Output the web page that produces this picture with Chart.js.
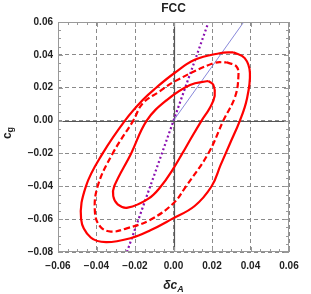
<!DOCTYPE html>
<html>
<head>
<meta charset="utf-8">
<script src="https://cdn.jsdelivr.net/npm/chart.js@4/dist/chart.umd.min.js"></script>
<style>
  html, body { margin: 0; padding: 0; background: #fff; }
  #wrap { width: 311px; height: 294px; }
</style>
</head>
<body>
<div id="wrap"><canvas id="chart" width="311" height="294"></canvas></div>
<script>
// axis ranges and tick labels
const xTicks = [-0.06, -0.04, -0.02, 0.00, 0.02, 0.04, 0.06];
const yTicks = [-0.08, -0.06, -0.04, -0.02, 0.00, 0.02, 0.04, 0.06];

// outer contour (solid)
const outerX = [0.031, 0.037, 0.0397, 0.038, 0.0345, 0.0294, 0.0245, 0.0198, 0.011, -0.001, -0.012, -0.022, -0.035, -0.043, -0.048, -0.0455, -0.0368, -0.0252, -0.016, -0.009, 0.000, 0.011, 0.024, 0.031];
const outerY = [0.0416, 0.038, 0.029, 0.0125, 0.000, -0.0138, -0.027, -0.040, -0.052, -0.060, -0.0668, -0.0715, -0.074, -0.0712, -0.060, -0.040, -0.020, 0.000, 0.0125, 0.020, 0.0285, 0.037, 0.041, 0.0416];

// middle contour (dashed)
const midX = [0.0276, 0.0328, 0.0337, 0.032, 0.0259, 0.0181, 0.0065, 0.000, -0.0122, -0.0243, -0.0325, -0.038, -0.0408, -0.0394, -0.0316, -0.0209, -0.016, -0.0074, 0.0004, 0.0207, 0.0276];
const midY = [0.0355, 0.0328, 0.0267, 0.0145, 0.000, -0.020, -0.040, -0.0503, -0.0605, -0.0656, -0.0676, -0.0646, -0.056, -0.040, -0.020, 0.000, 0.0105, 0.0176, 0.0237, 0.0349, 0.0355];

// inner contour (solid)
const innerX = [0.018, 0.0207, 0.0214, 0.019, 0.0146, 0.0095, 0.0046, -0.0005, -0.0065, -0.013, -0.0238, -0.029, -0.0313, -0.0308, -0.022, -0.0139, -0.0035, 0.0086, 0.018];
const innerY = [0.0241, 0.0217, 0.015, 0.008, 0.000, -0.010, -0.020, -0.030, -0.040, -0.0475, -0.053, -0.051, -0.046, -0.040, -0.020, 0.000, 0.0125, 0.0217, 0.0241];

// straight lines
const purpleX = [-0.0242, 0.0182];
const purpleY = [-0.08, 0.06];
const blueX = [0, 0.0365];
const blueY = [0, 0.06];

const pts = (xs, ys) => xs.map((x, i) => ({ x, y: ys[i] }));
const fmt = v => (Math.abs(v) < 1e-9 ? '0.00' : (v < 0 ? '\u2212' + (-v).toFixed(2) : v.toFixed(2)));

// frame, zero axes, minor ticks, title and axis labels
const decor = {
  id: 'decor',
  beforeDatasetsDraw(chart) {
    const { ctx, chartArea: a, scales: { x, y } } = chart;
    ctx.save();
    ctx.strokeStyle = '#555';
    ctx.lineWidth = 1.2;
    ctx.beginPath();
    const x0 = Math.round(x.getPixelForValue(0)) + 0.5;
    const y0 = Math.round(y.getPixelForValue(0)) + 0.5;
    ctx.moveTo(x0, a.top); ctx.lineTo(x0, a.bottom);
    ctx.moveTo(a.left, y0); ctx.lineTo(a.right, y0);
    ctx.stroke();
    ctx.restore();
  },
  afterDraw(chart) {
    const { ctx, chartArea: a, scales: { x, y } } = chart;
    ctx.save();
    ctx.strokeStyle = '#999';
    ctx.lineWidth = 1;
    ctx.strokeRect(a.left + 0.5, a.top + 0.5, a.right - a.left - 1, a.bottom - a.top - 1);
    ctx.beginPath();
    for (let k = -12; k <= 12; k++) {
      const v = k * 0.005;
      const len = k % 4 === 0 ? 5 : 3;
      const px = Math.round(x.getPixelForValue(v)) + 0.5;
      ctx.moveTo(px, a.bottom); ctx.lineTo(px, a.bottom - len);
      ctx.moveTo(px, a.top); ctx.lineTo(px, a.top + len);
    }
    for (let k = -16; k <= 12; k++) {
      const v = k * 0.005;
      const len = k % 4 === 0 ? 5 : 3;
      const py = Math.round(y.getPixelForValue(v)) + 0.5;
      ctx.moveTo(a.left, py); ctx.lineTo(a.left + len, py);
      ctx.moveTo(a.right, py); ctx.lineTo(a.right - len, py);
    }
    ctx.stroke();

    ctx.fillStyle = '#222';
    ctx.textBaseline = 'middle';
    ctx.textAlign = 'center';
    ctx.font = 'bold 12px "Liberation Sans", Arial, sans-serif';
    ctx.fillText('FCC', (a.left + a.right) / 2, 9);

    // x title: δc_A
    ctx.textAlign = 'left';
    ctx.font = 'italic bold 12px "Liberation Sans", Arial, sans-serif';
    const main = 'δc';
    const wm = ctx.measureText(main).width;
    ctx.font = 'italic bold 9px "Liberation Sans", Arial, sans-serif';
    const ws = ctx.measureText('A').width;
    let sx = (a.left + a.right) / 2 - (wm + ws) / 2;
    ctx.font = 'italic bold 12px "Liberation Sans", Arial, sans-serif';
    ctx.fillText(main, sx, 286);
    ctx.font = 'italic bold 9px "Liberation Sans", Arial, sans-serif';
    ctx.fillText('A', sx + wm, 290);

    // y title: c_g
    ctx.translate(9, 133);
    ctx.rotate(-Math.PI / 2);
    ctx.font = 'bold 12px "Liberation Sans", Arial, sans-serif';
    const wc = ctx.measureText('c').width;
    ctx.font = 'bold 9px "Liberation Sans", Arial, sans-serif';
    const wg = ctx.measureText('g').width;
    sx = -(wc + wg) / 2;
    ctx.font = 'bold 12px "Liberation Sans", Arial, sans-serif';
    ctx.fillText('c', sx, -1);
    ctx.font = 'bold 9px "Liberation Sans", Arial, sans-serif';
    ctx.fillText('g', sx + wc, 2);
    ctx.restore();
  }
};

const tickFont = { family: '"Liberation Sans", Arial, sans-serif', size: 10, weight: 'bold' };

new Chart(document.getElementById('chart'), {
  type: 'scatter',
  data: {
    datasets: [
      { data: pts(outerX, outerY), showLine: true, borderColor: '#ff0000', borderWidth: 2.2, tension: 0.4, pointRadius: 0 },
      { data: pts(midX, midY), showLine: true, borderColor: '#ff0000', borderWidth: 2.2, borderDash: [6, 3], tension: 0.4, pointRadius: 0 },
      { data: pts(innerX, innerY), showLine: true, borderColor: '#ff0000', borderWidth: 2.2, tension: 0.4, pointRadius: 0 },
      { data: pts(blueX, blueY), showLine: true, borderColor: '#6a6ad0', borderWidth: 0.8, pointRadius: 0 },
      { data: pts(purpleX, purpleY), showLine: true, borderColor: '#8a0fb0', borderWidth: 2.2, borderDash: [2, 2.5], pointRadius: 0 }
    ]
  },
  options: {
    responsive: false,
    animation: false,
    layout: { padding: { top: 22, right: 22, bottom: 0, left: 0 } },
    plugins: { legend: { display: false }, tooltip: { enabled: false } },
    scales: {
      x: {
        type: 'linear', min: -0.06, max: 0.06,
        afterBuildTicks: s => { s.ticks = xTicks.map(v => ({ value: v })); },
        afterFit: s => { s.height = 42; },
        ticks: { callback: v => fmt(v), font: tickFont, color: '#222', padding: 8, maxRotation: 0 },
        grid: { color: '#8a8a8a', lineWidth: 1, drawTicks: false },
        border: { display: false, dash: [4, 3] }
      },
      y: {
        type: 'linear', min: -0.08, max: 0.06,
        afterBuildTicks: s => { s.ticks = yTicks.map(v => ({ value: v })); },
        afterFit: s => { s.width = 58; },
        ticks: { callback: v => fmt(v), font: tickFont, color: '#222', padding: 5 },
        grid: { color: '#8a8a8a', lineWidth: 1, drawTicks: false },
        border: { display: false, dash: [4, 3] }
      }
    }
  },
  plugins: [decor]
});
</script>
</body>
</html>
